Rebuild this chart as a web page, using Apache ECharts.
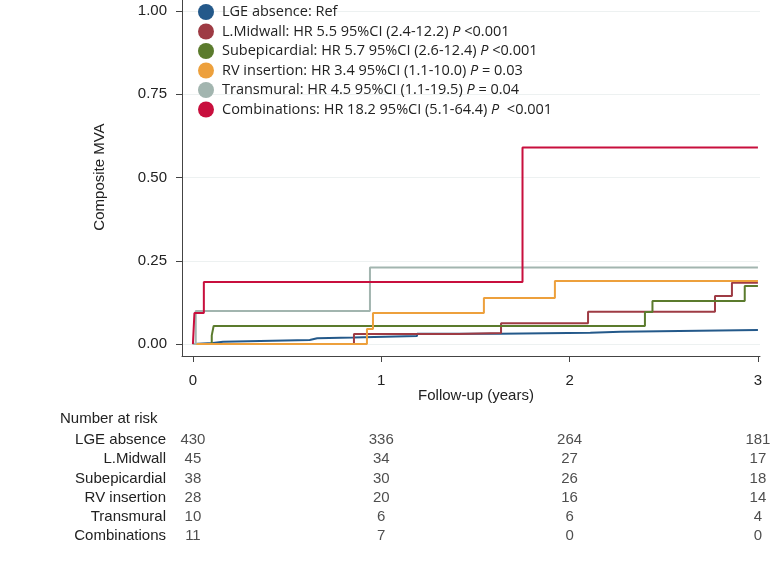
<!DOCTYPE html>
<html>
<head>
<meta charset="utf-8">
<script src="https://cdn.jsdelivr.net/npm/echarts@6/dist/echarts.min.js"></script>
<style>html,body{margin:0;padding:0;background:#fff}#c{width:777px;height:561px}</style>
</head>
<body>
<div id="c"></div>
<script>
// ---------- data ----------
const groups = ['LGE absence', 'L.Midwall', 'Subepicardial', 'RV insertion', 'Transmural', 'Combinations'];
const legendPrefix = ['LGE absence: Ref', 'L.Midwall: HR 5.5 95%CI (2.4-12.2) ', 'Subepicardial: HR 5.7 95%CI (2.6-12.4) ', 'RV insertion: HR 3.4 95%CI (1.1-10.0) ', 'Transmural: HR 4.5 95%CI (1.1-19.5) ', 'Combinations: HR 18.2 95%CI (5.1-64.4) '];
const legendP = ['', '<0.001', '<0.001', '= 0.03', '= 0.04', ' <0.001'];

const lgeAbsence = [[0,0],[0.01,0.003],[0.106,0.007],[0.16,0.012],[0.62,0.017],[0.66,0.0195],[0.85,0.022],[1.02,0.024],[1.19,0.031],[1.63,0.034],[2.11,0.037],[2.27,0.042],[3.0,0.042]];
const lMidwall = [[0,0],[0.855,0.030],[1.41,0.033],[1.636,0.062],[2.098,0.097],[2.772,0.144],[2.862,0.184],[3.0,0.184]];
const subepicardial = [[0,0],[0.10,0.026],[0.11,0.054],[2.40,0.096],[2.44,0.129],[2.93,0.174],[3.0,0.174]];
const rvInsertion = [[0,0],[0.924,0.045],[0.956,0.093],[1.545,0.138],[1.922,0.189],[3.0,0.189]];
const transmural = [[0,0],[0.015,0.099],[0.94,0.23],[3.0,0.23]];
const combinations = [[0,0],[0.008,0.093],[0.058,0.186],[1.75,0.59],[3.0,0.59]];
const seriesData = [lgeAbsence, lMidwall, subepicardial, rvInsertion, transmural, combinations];

const yTicks = [0, 0.25, 0.5, 0.75, 1];
const xTicks = [0, 1, 2, 3];
const riskTimes = [0, 1, 2, 3];
const riskLGE = [430, 336, 264, 181];
const riskMidwall = [45, 34, 27, 17];
const riskSubepi = [38, 30, 26, 18];
const riskRV = [28, 20, 16, 14];
const riskTransmural = [10, 6, 6, 4];
const riskComb = [11, 7, 0, 0];
const riskRows = [riskLGE, riskMidwall, riskSubepi, riskRV, riskTransmural, riskComb];

// ---------- styles ----------
const colors = ['#24598a', '#9e3b44', '#5b7b2d', '#eda03c', '#a2b5af', '#c80f3d'];
const FONT = 'Liberation Sans, Arial, sans-serif';
const LFONT = 'Open Sans, Liberation Sans, sans-serif';

const riskScatter = [];
riskRows.forEach((row, r) => row.forEach((v, i) => riskScatter.push([riskTimes[i], groups[r], v])));

const chart = echarts.init(document.getElementById('c'), null, {renderer: 'canvas'});
chart.setOption({
  backgroundColor: '#ffffff',
  animation: false,
  color: colors,
  grid: [
    {left: 182, right: 17, top: 0, bottom: 205, containLabel: false},
    {left: 182, right: 17, top: 430.5, height: 115.2, containLabel: false}
  ],
  xAxis: [
    {
      type: 'value', gridIndex: 0, min: -0.058, max: 3.011,
      axisLine: {show: true, onZero: false, lineStyle: {color: '#444', width: 1}},
      axisTick: {show: true, length: 6, customValues: xTicks, lineStyle: {color: '#444'}},
      axisLabel: {customValues: xTicks, fontSize: 15, fontFamily: FONT, color: '#222', margin: 17, formatter: v => String(v)},
      splitLine: {show: false}
    },
    {type: 'value', gridIndex: 1, min: -0.058, max: 3.011, show: false}
  ],
  yAxis: [
    {
      type: 'value', gridIndex: 0, min: -0.036, max: 1.033,
      axisLine: {show: true, onZero: false, lineStyle: {color: '#444', width: 1}},
      axisTick: {show: true, length: 6, customValues: yTicks, lineStyle: {color: '#444'}},
      axisLabel: {customValues: yTicks, fontSize: 15, fontFamily: FONT, color: '#222', margin: 15, formatter: v => v.toFixed(2)},
      splitLine: {show: true, lineStyle: {color: '#edf1f1', width: 1}}
    },
    {
      type: 'category', gridIndex: 1, data: groups, inverse: true,
      axisLine: {show: false}, axisTick: {show: false}, splitLine: {show: false},
      axisLabel: {interval: 0, fontSize: 15, fontFamily: FONT, color: '#222', margin: 16, align: 'right'}
    }
  ],
  legend: {
    orient: 'vertical', left: 198, top: 4, padding: 0, itemWidth: 16, itemHeight: 16, itemGap: 3.5,
    icon: 'circle', data: groups,
    textStyle: {fontSize: 14.5, fontFamily: LFONT, color: '#222', lineHeight: 16, padding: [0, 0, 0, 3],
      rich: {i: {fontStyle: 'italic', fontSize: 14.5, fontFamily: LFONT, color: '#222'}}},
    formatter: name => {
      const k = groups.indexOf(name);
      return legendP[k] ? legendPrefix[k] + '{i|P} ' + legendP[k] : legendPrefix[k];
    }
  },
  graphic: [
    {type: 'text', left: 60, top: 411, style: {text: 'Number at risk', fontSize: 15, fontFamily: FONT, fill: '#222'}},
    {type: 'text', x: 476, y: 396, style: {text: 'Follow-up (years)', fontSize: 15, fontFamily: FONT, fill: '#222', align: 'center', verticalAlign: 'middle'}},
    {type: 'text', x: 100, y: 177, rotation: Math.PI / 2, style: {text: 'Composite MVA', fontSize: 15, fontFamily: FONT, fill: '#222', align: 'center', verticalAlign: 'middle'}}
  ],
  series: groups.map((g, k) => ({
    name: g, type: 'line', xAxisIndex: 0, yAxisIndex: 0, step: 'end', data: seriesData[k],
    showSymbol: false, symbol: 'none', lineStyle: {width: 2, color: colors[k]}, itemStyle: {color: colors[k]}, z: 2 + k
  })).concat([{
    name: 'risk', type: 'scatter', xAxisIndex: 1, yAxisIndex: 1, data: riskScatter, symbolSize: 0,
    label: {show: true, position: 'inside', formatter: p => String(p.value[2]), fontSize: 15, fontFamily: FONT, color: '#222'},
    silent: true
  }])
});
</script>
</body>
</html>
